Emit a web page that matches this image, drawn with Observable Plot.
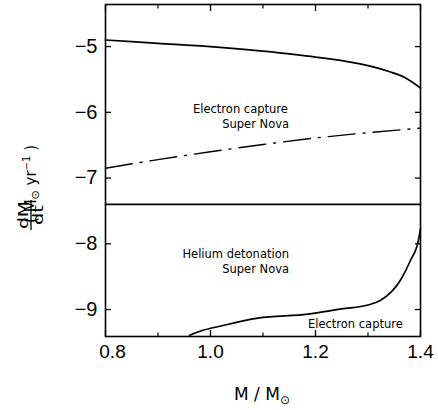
<!DOCTYPE html>
<html><head><meta charset="utf-8">
<script src="https://cdn.jsdelivr.net/npm/d3@7"></script>
<script src="https://cdn.jsdelivr.net/npm/@observablehq/plot@0.6"></script>
<style>body{margin:0;background:#fff}</style>
</head><body><div id="chart"></div>
<script>
// Upper solid curve (Electron capture limit)
const massUpper = [0.8, 0.9, 1.0, 1.1, 1.2, 1.3, 1.34, 1.37, 1.4];
const rateUpper = [-4.90, -4.95, -5.0, -5.07, -5.16, -5.29, -5.38, -5.47, -5.63];
// Dash-dot curve
const massDashDot = [0.8, 0.9, 1.0, 1.1, 1.2, 1.3, 1.4];
const rateDashDot = [-6.85, -6.72, -6.6, -6.49, -6.39, -6.31, -6.24];
// Horizontal boundary
const massFlat = [0.8, 1.4];
const rateFlat = [-7.4, -7.4];
// Lower solid curve
const massLower = [0.96, 0.98, 1.02, 1.09, 1.185, 1.25, 1.3, 1.324, 1.362, 1.381, 1.396, 1.4];
const rateLower = [-9.39, -9.33, -9.25, -9.13, -9.07, -8.99, -8.93, -8.86, -8.55, -8.25, -7.95, -7.77];
// Ticks
const xTicks = [0.8, 1.0, 1.2, 1.4];
const xTickLabels = ["0.8", "1.0", "1.2", "1.4"];
const xMinorTicks = [0.9, 1.1, 1.3];
const yTicks = [-9, -8, -7, -6, -5];
const yTickLabels = ["\u22129", "\u22128", "\u22127", "\u22126", "\u22125"];
// Annotations
const annoText = ["Electron capture", "Super Nova", "Helium detonation", "Super Nova", "Electron capture"];
const annoMass = [1.057, 1.086, 1.048, 1.086, 1.276];
const annoRate = [-5.95, -6.18, -8.16, -8.39, -9.23];

const pts = (xs, ys) => xs.map((m, i) => ({m, r: ys[i]}));
const annos = annoText.map((t, i) => ({t, m: annoMass[i], r: annoRate[i]}));
const fmtX = d => xTickLabels[xTicks.indexOf(d)] ?? "";
const fmtY = d => yTickLabels[yTicks.indexOf(d)] ?? "";
const none = () => "";
const tickFont = "Liberation Sans Narrow, Liberation Sans, sans-serif";
const tk = 6, tkMinor = 3.5;

const chart = Plot.plot({
  width: 438, height: 410,
  marginLeft: 105, marginRight: 18, marginTop: 4, marginBottom: 74,
  x: {domain: [0.8, 1.4]},
  y: {domain: [-9.41, -4.36]},
  style: {background: "#fff", color: "#000"},
  marks: [
    // tick labels
    Plot.axisX(xTicks.slice(1), {anchor: "bottom", label: null, tickSize: 0, tickPadding: 8, tickFormat: fmtX, fontSize: 19, fontFamily: tickFont}),
    Plot.axisX(xTicks.slice(0, 1), {anchor: "bottom", label: null, tickSize: 0, tickPadding: 8, dx: 7, tickFormat: fmtX, fontSize: 19, fontFamily: tickFont}),
    Plot.axisY(yTicks, {anchor: "left", label: null, tickSize: 0, tickPadding: 8, tickFormat: fmtY, fontSize: 20, fontFamily: tickFont}),
    // inward tick marks on all four sides (axis ticks shifted inside the frame)
    Plot.axisY(yTicks, {anchor: "left", label: null, tickSize: tk, dx: tk, tickFormat: none, strokeWidth: 1.3}),
    Plot.axisY(yTicks, {anchor: "right", label: null, tickSize: tk, dx: -tk, tickFormat: none, strokeWidth: 1.3}),
    Plot.axisX(xTicks, {anchor: "bottom", label: null, tickSize: tk, dy: -tk, tickFormat: none, strokeWidth: 1.3}),
    Plot.axisX(xTicks, {anchor: "top", label: null, tickSize: tk, dy: tk, tickFormat: none, strokeWidth: 1.3}),
    Plot.axisX(xMinorTicks, {anchor: "bottom", label: null, tickSize: tkMinor, dy: -tkMinor, tickFormat: none, strokeWidth: 1.2}),
    Plot.axisX(xMinorTicks, {anchor: "top", label: null, tickSize: tkMinor, dy: tkMinor, tickFormat: none, strokeWidth: 1.2}),
    Plot.frame({stroke: "#000", strokeWidth: 1.6}),
    // curves
    Plot.line(pts(massUpper, rateUpper), {x: "m", y: "r", curve: "monotone-x", stroke: "#000", strokeWidth: 1.7}),
    Plot.line(pts(massDashDot, rateDashDot), {x: "m", y: "r", curve: "monotone-x", stroke: "#000", strokeWidth: 1.4, strokeDasharray: "27,8,2,8"}),
    Plot.line(pts(massFlat, rateFlat), {x: "m", y: "r", stroke: "#000", strokeWidth: 1.7}),
    Plot.line(pts(massLower, rateLower), {x: "m", y: "r", curve: "monotone-x", stroke: "#000", strokeWidth: 1.7}),
    Plot.text(annos, {x: "m", y: "r", text: "t", fontSize: 11.5, fontFamily: "DejaVu Sans, sans-serif", fill: "#000", letterSpacing: 0.4})
  ]
});
document.getElementById("chart").appendChild(chart);

const svg = d3.select(chart);
// x-axis label: M / M_sun
const xl = svg.append("text").attr("x", 262).attr("y", 400).attr("text-anchor", "middle")
  .attr("font-family", "DejaVu Sans, sans-serif").attr("font-size", 17).attr("fill", "#000");
xl.append("tspan").text("M / M");
xl.append("tspan").attr("dy", 4).attr("font-size", 12).text("\u2299");

// y-axis label: dM/dt (M_sun yr^-1)
const g = svg.append("g").attr("transform", "translate(31,215) rotate(-90)")
  .attr("font-family", "DejaVu Sans, sans-serif").attr("fill", "#000");
g.append("text").attr("x", 0).attr("y", -3).attr("text-anchor", "middle").attr("font-size", 14)
  .attr("textLength", 28).attr("lengthAdjust", "spacingAndGlyphs").text("dM");
g.append("line").attr("x1", -15).attr("x2", 15).attr("y1", 0).attr("y2", 0).attr("stroke", "#000").attr("stroke-width", 1.3);
g.append("text").attr("x", 0).attr("y", 12).attr("text-anchor", "middle").attr("font-size", 14)
  .attr("textLength", 20).attr("lengthAdjust", "spacingAndGlyphs").text("dt");
const u = g.append("text").attr("x", 31).attr("y", 5).attr("font-size", 15);
u.append("tspan").text("( M");
u.append("tspan").attr("dy", 3).attr("font-size", 11).text("\u2299");
u.append("tspan").attr("dy", -3).text(" yr");
u.append("tspan").attr("dy", -6).attr("font-size", 10).text("\u22121");
u.append("tspan").attr("dy", 6).text(" )");
</script>
</body></html>
